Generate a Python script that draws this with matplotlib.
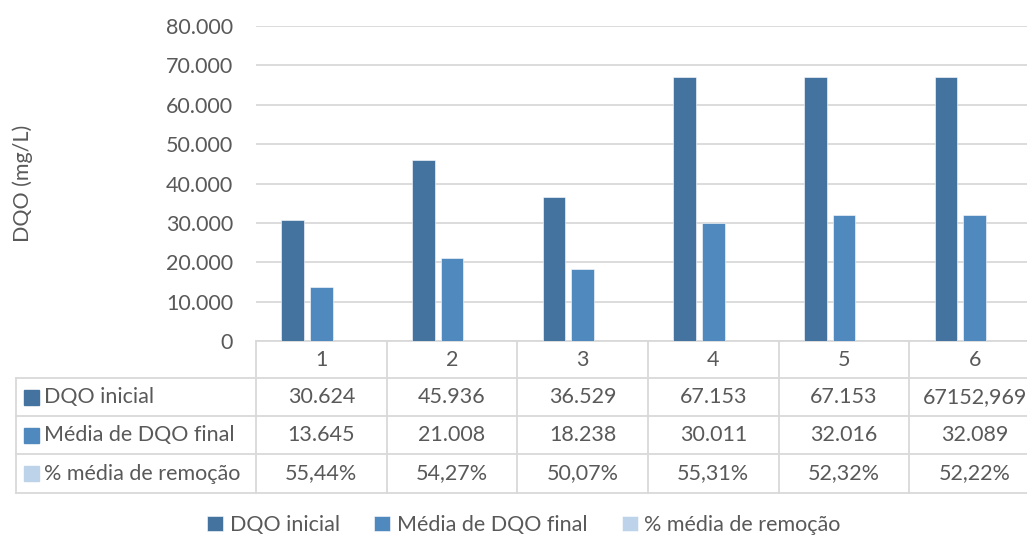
import numpy as np
import matplotlib
matplotlib.use('Agg')
import matplotlib.pyplot as plt
from matplotlib.lines import Line2D
from matplotlib.patches import Rectangle

plt.rcParams['font.family'] = ['Lato', 'DejaVu Sans']

categories = ['1', '2', '3', '4', '5', '6']
series_names = ['DQO inicial', 'Média de DQO final', '% média de remoção']
dqo_inicial = [30624, 45936, 36529, 67153, 67153, 67152.969]
dqo_final = [13645, 21008, 18238, 30011, 32016, 32089]
remocao = [0.5544, 0.5427, 0.5007, 0.5531, 0.5232, 0.5222]
table_text = [
    ['30.624', '45.936', '36.529', '67.153', '67.153', '67152,969'],
    ['13.645', '21.008', '18.238', '30.011', '32.016', '32.089'],
    ['55,44%', '54,27%', '50,07%', '55,31%', '52,32%', '52,22%'],
]
colors = ['#44739F', '#4F89BE', '#BDD3EA']
text_color = '#595959'
grid_color = '#D9D9D9'
fs = 15.5

W, H = 1027, 538
AX_L, AX_R, AX_T, AX_B = 256, 1040, 26, 341

fig = plt.figure(figsize=(W / 100, H / 100), dpi=100)
ax = fig.add_axes([AX_L / W, 1 - AX_B / H, (AX_R - AX_L) / W, (AX_B - AX_T) / H])

x = np.arange(len(categories))
width = 0.175
step = 0.219
handles = []
for i, vals in enumerate([dqo_inicial, dqo_final, remocao]):
    b = ax.bar(x + (i - 1) * step, vals, width=width, color=colors[i],
               edgecolor='#ffffff', linewidth=0.4, zorder=3, label=series_names[i])
    handles.append(b)

ax.set_xlim(-0.5, len(categories) - 0.5)
ax.set_ylim(0, 80000)
ax.set_yticks(np.arange(0, 80001, 10000))
ax.set_yticklabels(['0'] + ['{:,}'.format(v).replace(',', '.') for v in range(10000, 80001, 10000)])
ax.set_xticks([])
ax.grid(axis='y', color=grid_color, linewidth=1.3, zorder=0)
for s in ['top', 'right', 'left']:
    ax.spines[s].set_visible(False)
ax.spines['bottom'].set_color(grid_color)
ax.spines['bottom'].set_linewidth(1.3)
ax.tick_params(axis='y', length=0, pad=16.5, labelsize=fs, labelcolor=text_color)
ax.set_ylabel('DQO (mg/L)', fontsize=fs, color=text_color)
ax.yaxis.set_label_coords((33 - AX_L) / (AX_R - AX_L), 0.5)

# data table under the axis
tr = ax.get_xaxis_transform()
def yfrac(py):
    return (AX_B - py) / (AX_B - AX_T)
def xdata(px):
    return (px - AX_L) / (AX_R - AX_L) * len(categories) - 0.5

rows_px = [341, 378, 416, 454, 493]
tbl_left = xdata(16)
lw = 1.3
for py in rows_px[1:]:
    ax.add_line(Line2D([tbl_left, len(categories) - 0.5], [yfrac(py)] * 2, transform=tr,
                       color=grid_color, linewidth=lw, clip_on=False))
for k in range(len(categories) + 1):
    ax.add_line(Line2D([k - 0.5] * 2, [yfrac(rows_px[0]), yfrac(rows_px[-1])], transform=tr,
                       color=grid_color, linewidth=lw, clip_on=False))
ax.add_line(Line2D([tbl_left] * 2, [yfrac(rows_px[1]), yfrac(rows_px[-1])], transform=tr,
                   color=grid_color, linewidth=lw, clip_on=False))

hy = yfrac((rows_px[0] + rows_px[1]) / 2)
for j, c in enumerate(categories):
    ax.text(x[j], hy, c, transform=tr, ha='center', va='center', fontsize=fs,
            color=text_color, clip_on=False)

for r in range(3):
    cy_px = (rows_px[r + 1] + rows_px[r + 2]) / 2
    cy = yfrac(cy_px)
    for j in range(len(categories)):
        ax.text(x[j], cy, table_text[r][j], transform=tr, ha='center', va='center',
                fontsize=fs, color=text_color, clip_on=False)
    # legend key + row label
    fig.add_artist(Rectangle((24 / W, 1 - (cy_px + 7.5) / H), 15 / W, 15 / H,
                             transform=fig.transFigure, color=colors[r]))
    fig.text(44 / W, 1 - cy_px / H, series_names[r], ha='left', va='center',
             fontsize=fs, color=text_color)

fig.legend(handles=handles, labels=series_names, loc='center', ncol=3,
           bbox_to_anchor=(524 / W, 1 - 525 / H), frameon=False, fontsize=fs,
           labelcolor=text_color, handlelength=0.75, handleheight=0.75,
           handletextpad=0.3, columnspacing=1.6)

plt.savefig('out.png', dpi=100)
plt.close(fig)
